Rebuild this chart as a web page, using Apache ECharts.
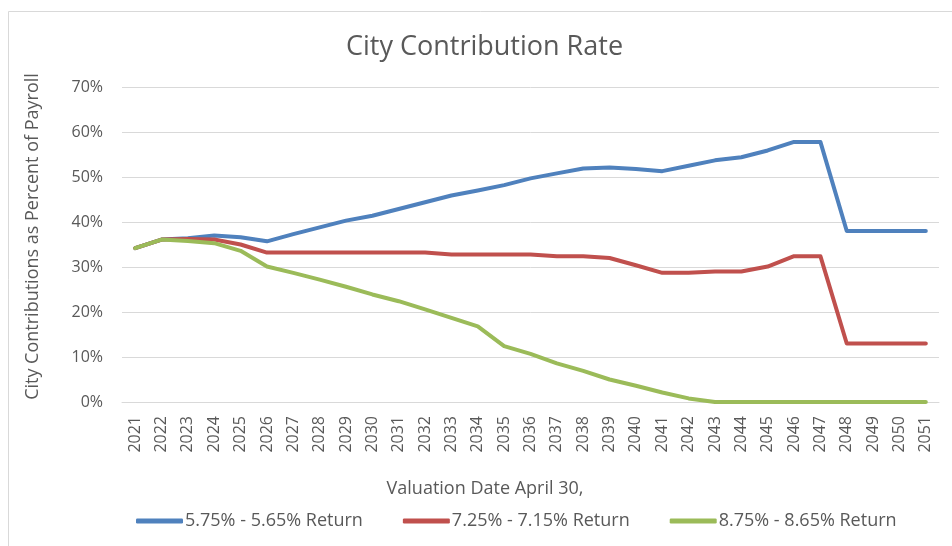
<!DOCTYPE html>
<html>
<head>
<meta charset="utf-8">
<script src="https://cdn.jsdelivr.net/npm/echarts@6/dist/echarts.min.js"></script>
<style>
html,body{margin:0;padding:0;background:#fff;}
#chart{width:952px;height:546px;}
</style>
</head>
<body>
<div id="chart"></div>
<script>
const years = ['2021','2022','2023','2024','2025','2026','2027','2028','2029','2030','2031','2032','2033','2034','2035','2036','2037','2038','2039','2040','2041','2042','2043','2044','2045','2046','2047','2048','2049','2050','2051'];
const seriesNames = ['5.75% - 5.65% Return','7.25% - 7.15% Return','8.75% - 8.65% Return'];
const low = [34.2,36.1,36.4,37.0,36.6,35.7,37.3,38.8,40.3,41.4,42.9,44.4,45.9,47.0,48.2,49.7,50.8,51.9,52.1,51.8,51.3,52.5,53.7,54.4,55.9,57.8,57.8,38.0,38.0,38.0,38.0];
const mid = [34.2,36.1,36.2,36.1,35.0,33.2,33.2,33.2,33.2,33.2,33.2,33.2,32.8,32.8,32.8,32.8,32.4,32.4,32.0,30.4,28.7,28.7,29.0,29.0,30.1,32.4,32.4,13.0,13.0,13.0,13.0];
const high = [34.2,36.1,35.8,35.3,33.6,30.1,28.7,27.2,25.6,23.9,22.4,20.6,18.7,16.8,12.4,10.7,8.6,6.9,5.0,3.6,2.1,0.8,0,0,0,0,0,0,0,0,0];
const yTicks = {min:0, max:70, interval:10};
const colors = ['#4f81bd','#c0504d','#9bbb59'];

const font = '"Open Sans", sans-serif';
const txt = '#595959';
const chart = echarts.init(document.getElementById('chart'));
const mk = (name, data, color) => ({
  name, type:'line', data, color,
  showSymbol:false, symbol:'none', smooth:false,
  lineStyle:{width:4, color, cap:'round', join:'round'},
  emphasis:{disabled:true}
});
chart.setOption({
  animation:false,
  backgroundColor:'#fff',
  graphic:[{type:'rect', shape:{x:8.5, y:11.5, width:1000, height:600}, style:{fill:'none', stroke:'#d9d9d9', lineWidth:1}, silent:true}],
  title:{text:'City Contribution Rate', left:341, top:29, textStyle:{fontFamily:font, fontSize:27, fontWeight:'normal', color:txt}},
  grid:{left:122, right:13, top:87, bottom:144},
  legend:{left:136, top:512, padding:0, itemGap:40, itemWidth:47, itemHeight:5, icon:'roundRect',
    textStyle:{fontFamily:font, fontSize:18, color:txt, padding:[0,0,0,-3]}, data:seriesNames},
  xAxis:{type:'category', data:years, boundaryGap:true,
    name:'Valuation Date April 30,', nameLocation:'middle', nameGap:78,
    nameTextStyle:{fontFamily:font, fontSize:18, color:txt, padding:[0,91,0,0]},
    axisLine:{show:true, lineStyle:{color:'#d9d9d9', width:1}},
    axisTick:{show:false},
    axisLabel:{rotate:90, interval:0, margin:14, fontFamily:font, fontSize:16, color:txt}},
  yAxis:{type:'value', min:yTicks.min, max:yTicks.max, interval:yTicks.interval,
    name:'City Contributions as Percent of Payroll', nameLocation:'middle', nameGap:80,
    nameTextStyle:{fontFamily:font, fontSize:18, color:txt, padding:[0,0,0,16]},
    axisLine:{show:false}, axisTick:{show:false},
    axisLabel:{formatter:'{value}%', margin:19, fontFamily:font, fontSize:16, color:txt},
    splitLine:{lineStyle:{color:'#d9d9d9', width:1}}},
  series:[mk(seriesNames[0], low, colors[0]), mk(seriesNames[1], mid, colors[1]), mk(seriesNames[2], high, colors[2])]
});
</script>
</body>
</html>
